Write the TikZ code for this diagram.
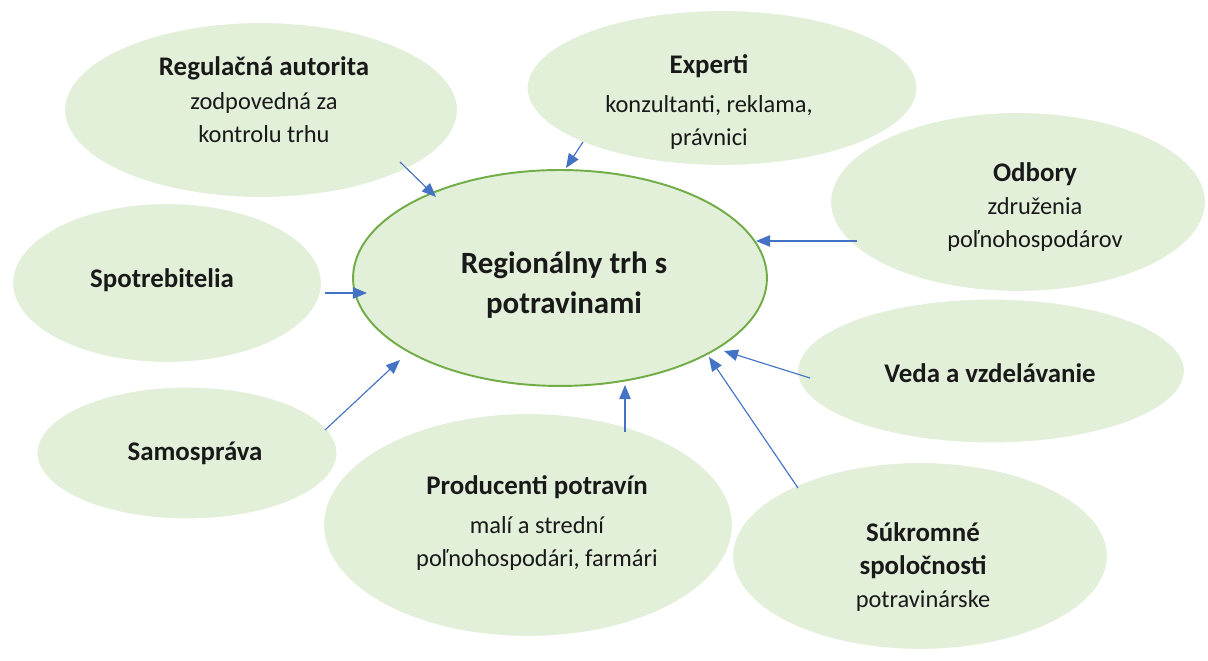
\documentclass[tikz,border=0pt]{standalone}
\usepackage{fontspec}
\setmainfont{Carlito}
\usetikzlibrary{shapes.geometric,arrows.meta}
\definecolor{fillgreen}{RGB}{226,239,217}
\definecolor{edgegreen}{RGB}{112,173,71}
\definecolor{arrowblue}{RGB}{68,114,196}
\newcommand\boldtxt{\fontsize{15.3}{19}\selectfont\bfseries}
\newcommand\regtxt{\fontsize{13.9}{19}\selectfont}
\tikzset{
  side/.style={ellipse, fill=fillgreen, draw=white, line width=1.2pt, inner sep=0pt},
  hub/.style={ellipse, fill=fillgreen, draw=edgegreen, line width=1.1pt, inner sep=0pt},
  lbl/.style={align=center, font=\regtxt, text=black!90, inner sep=0pt},
  link/.style={draw=arrowblue, line width=0.65pt, -{Triangle[length=8pt,width=6.5pt]}}
}
\begin{document}
\begin{tikzpicture}[x=0.02cm, y=-0.02cm]
\path[use as bounding box, fill=white] (0,0) rectangle (1208,661);
% outer ellipses
\node[side, minimum width=7.88cm, minimum height=3.52cm] (reg) at (261,110) {};
\node[side, minimum width=7.52cm, minimum height=3.60cm] (odb) at (1018,202) {};
\node[side, minimum width=7.82cm, minimum height=3.12cm] (exp) at (722,88) {};
\node[side, minimum width=6.20cm, minimum height=3.20cm] (spo) at (167,283) {};
\node[side, minimum width=6.02cm, minimum height=2.66cm] (sam) at (187,453) {};
\node[side, minimum width=7.76cm, minimum height=2.90cm] (ved) at (991,371) {};
\node[side, minimum width=8.20cm, minimum height=4.48cm] (pro) at (528,525) {};
\node[side, minimum width=7.52cm, minimum height=3.76cm] (suk) at (920,556) {};
% central ellipse
\node[hub, minimum width=8.28cm, minimum height=4.32cm] (hub) at (560,278) {};
% labels
\node[lbl] (treg) at (264,100) {{\boldtxt Regulačná autorita}\\zodpovedná za\\kontrolu trhu};
\node[lbl] (texp) at (709,102) {{\boldtxt Experti}\\[3pt]konzultanti, reklama,\\právnici};
\node[lbl] (todb) at (1035,207) {{\boldtxt Odbory}\\združenia\\poľnohospodárov};
\node[lbl, font=\boldtxt] (tspo) at (162,280) {Spotrebitelia};
\node[lbl, font=\boldtxt] (tsam) at (195,453) {Samospráva};
\node[lbl, font=\boldtxt] (tved) at (990,373) {Veda a vzdelávanie};
\node[lbl] (tpro) at (537,523) {{\boldtxt Producenti potravín}\\[3pt]malí a strední\\poľnohospodári, farmári};
\node[lbl] (tsuk) at (923,567) {{\boldtxt Súkromné}\\{\boldtxt spoločnosti}\\potravinárske};
\node[lbl, align=center, font={\fontsize{17.6}{22.7}\selectfont\bfseries}] (thub) at (564,285) {Regionálny trh s\\potravinami};
% connector end points
\coordinate (a1s) at (400,162); \coordinate (a1e) at (436,197);
\coordinate (a2s) at (583,142); \coordinate (a2e) at (566,168);
\coordinate (a3s) at (857,241); \coordinate (a3e) at (756,241);
\coordinate (a4s) at (325,293); \coordinate (a4e) at (367,293);
\coordinate (a5s) at (325,430); \coordinate (a5e) at (400,360);
\coordinate (a6s) at (625,432); \coordinate (a6e) at (625,385);
\coordinate (a7s) at (798,488); \coordinate (a7e) at (709,357);
\coordinate (a8s) at (810,378); \coordinate (a8e) at (724,351);
% connectors
\draw[link] (a1s) -- (a1e);
\draw[link] (a2s) -- (a2e);
\draw[link] (a3s) -- (a3e);
\draw[link] (a4s) -- (a4e);
\draw[link] (a5s) -- (a5e);
\draw[link] (a6s) -- (a6e);
\draw[link] (a7s) -- (a7e);
\draw[link] (a8s) -- (a8e);
\end{tikzpicture}
\end{document}
